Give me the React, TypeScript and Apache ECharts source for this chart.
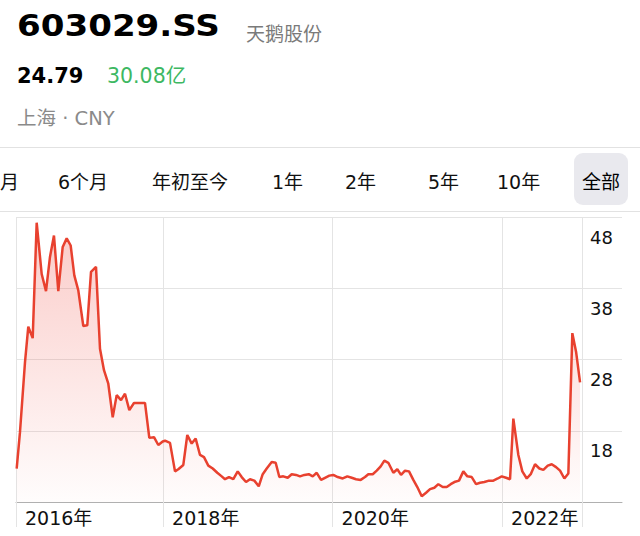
import React, { useEffect, useRef } from 'react';
import * as echarts from 'echarts';

// ---- header texts ----
const tickerSymbol = '603029.SS';
const companyName = '天鹅股份';
const lastPrice = '24.79';
const marketCap = '30.08亿';
const exchangeInfo = '上海 · CNY';

// ---- range tabs ----
const tabs = ['月', '6个月', '年初至今', '1年', '2年', '5年', '10年', '全部'];
const activeTab = '全部';

// ---- price history (time in decimal years, close price in CNY) ----
const times = [
  2016.273, 2016.312, 2016.371, 2016.41, 2016.462, 2016.509, 2016.568, 2016.619, 2016.666, 2016.713,
  2016.764, 2016.816, 2016.863, 2016.91, 2016.953, 2017.0, 2017.059, 2017.106, 2017.15, 2017.209,
  2017.256, 2017.303, 2017.354, 2017.406, 2017.453, 2017.504, 2017.551, 2017.602, 2017.657, 2017.787,
  2017.838, 2017.893, 2017.944, 2017.996, 2018.023, 2018.082, 2018.141, 2018.18, 2018.239, 2018.286,
  2018.338, 2018.385, 2018.436, 2018.483, 2018.534, 2018.586, 2018.64, 2018.692, 2018.731, 2018.778,
  2018.829, 2018.881, 2018.928, 2018.979, 2019.026, 2019.077, 2019.129, 2019.176, 2019.223, 2019.282,
  2019.329, 2019.372, 2019.419, 2019.471, 2019.518, 2019.569, 2019.616, 2019.667, 2019.719, 2019.766,
  2019.813, 2019.864, 2019.911, 2019.962, 2020.009, 2020.061, 2020.12, 2020.174, 2020.226, 2020.277,
  2020.332, 2020.383, 2020.422, 2020.474, 2020.521, 2020.568, 2020.611, 2020.658, 2020.717, 2020.764,
  2020.808, 2020.855, 2020.902, 2020.953, 2021.0, 2021.052, 2021.103, 2021.15, 2021.201, 2021.248,
  2021.3, 2021.347, 2021.394, 2021.437, 2021.492, 2021.543, 2021.59, 2021.642, 2021.693, 2021.74,
  2021.791, 2021.846, 2021.897, 2021.949, 2021.996, 2022.047, 2022.094, 2022.133, 2022.192, 2022.239,
  2022.291, 2022.338, 2022.389, 2022.44, 2022.487, 2022.539, 2022.586, 2022.637, 2022.684, 2022.735,
  2022.782, 2022.829, 2022.873, 2022.92,
];
const prices = [
  12.7, 17.8, 27.6, 32.6, 31.0, 47.2, 40.0, 37.6, 42.4, 45.4,
  37.6, 43.8, 45.0, 44.0, 39.8, 37.7, 32.7, 32.8, 40.3, 41.0,
  29.5, 26.5, 24.6, 19.9, 23.0, 22.3, 23.2, 20.9, 21.9, 21.9,
  17.0, 17.1, 16.0, 16.5, 16.6, 16.3, 12.3, 12.6, 13.2, 17.4,
  16.2, 16.9, 14.6, 14.3, 13.1, 12.7, 12.1, 11.6, 11.2, 11.5,
  11.2, 12.3, 11.5, 10.8, 11.2, 11.0, 10.2, 11.9, 12.7, 13.6,
  13.5, 11.5, 11.6, 11.4, 11.9, 11.8, 11.6, 11.8, 11.9, 11.6,
  12.1, 11.1, 11.4, 11.7, 11.8, 11.5, 11.3, 11.6, 11.4, 11.2,
  11.1, 11.5, 11.9, 11.9, 12.4, 13.0, 13.8, 13.5, 12.1, 12.6,
  11.8, 12.4, 12.3, 11.1, 10.1, 8.8, 9.3, 9.8, 10.0, 10.5,
  10.1, 10.1, 10.5, 10.8, 11.0, 12.3, 11.6, 11.5, 10.5, 10.7,
  10.8, 11.0, 11.0, 11.3, 11.6, 11.4, 11.2, 19.7, 14.6, 12.3,
  11.3, 11.9, 13.3, 12.7, 12.5, 13.1, 13.3, 12.9, 12.4, 11.3,
  12.0, 31.7, 29.1, 24.79,
];

// ---- axes ----
const axisStart = 2016.265;
const axisEnd = 2023.415;
const dataEnd = 2022.943;
const yearLabels = [2016.265, 2018, 2020, 2022];
const priceMin = 8;
const priceMax = 48;
const priceGrid = [8, 18, 28, 38, 48];
const priceLabels = [18, 28, 38, 48];

const FONT = '"DejaVu Sans", "Noto Sans CJK SC", sans-serif';
const CJK = '"Noto Sans CJK SC", "DejaVu Sans", sans-serif';
const tabX = [0, 58, 152, 272, 345, 428, 497, 582];

export default function App() {
  const ref = useRef<HTMLDivElement>(null);
  useEffect(() => {
    if (!ref.current) return;
    const chart = echarts.init(ref.current, undefined, { renderer: 'svg' });
    const data = times.map((t, i) => [t, prices[i]]);

    const graphic: any[] = [
      {
        type: 'text', x: 17, y: 26, scaleX: 1.1, z: 10,
        style: { text: tickerSymbol, fontFamily: FONT, fontWeight: 'bold', fontSize: 31, fill: '#000', textAlign: 'left', textVerticalAlign: 'middle' },
      },
      {
        type: 'text', x: 246, y: 32, z: 10,
        style: { text: companyName, fontFamily: CJK, fontSize: 19, fill: '#7a7a7a', textAlign: 'left', textVerticalAlign: 'middle' },
      },
      {
        type: 'text', x: 17, y: 76, z: 10,
        style: { text: lastPrice, fontFamily: FONT, fontWeight: 'bold', fontSize: 21, fill: '#000', textAlign: 'left', textVerticalAlign: 'middle' },
      },
      {
        type: 'text', x: 107, y: 76, z: 10,
        style: { text: marketCap, fontFamily: FONT, fontSize: 20.5, fill: '#3db862', textAlign: 'left', textVerticalAlign: 'middle' },
      },
      {
        type: 'text', x: 17, y: 118, z: 10,
        style: { text: exchangeInfo, fontFamily: FONT, fontSize: 19.5, fill: '#8a8a8a', textAlign: 'left', textVerticalAlign: 'middle' },
      },
      { type: 'line', z: 5, shape: { x1: 0, y1: 147.5, x2: 640, y2: 147.5 }, style: { stroke: '#e2e2e2', lineWidth: 1 } },
      { type: 'line', z: 5, shape: { x1: 0, y1: 211.5, x2: 640, y2: 211.5 }, style: { stroke: '#e2e2e2', lineWidth: 1 } },
      { type: 'rect', z: 5, shape: { x: 574, y: 153, width: 54, height: 52, r: 9 }, style: { fill: '#e9e9ee' } },
    ];
    tabs.forEach((t, i) => {
      graphic.push({
        type: 'text', x: tabX[i], y: 182, z: 10,
        style: { text: t, fontFamily: FONT, fontSize: 19, fill: t === activeTab ? '#000' : '#111', textAlign: 'left', textVerticalAlign: 'middle' },
      });
    });

    chart.setOption({
      animation: false,
      backgroundColor: '#ffffff',
      grid: { left: 16, right: 18, top: 217, bottom: 34, containLabel: false, outerBoundsMode: 'none' },
      xAxis: {
        type: 'value',
        min: axisStart,
        max: axisEnd,
        axisLine: { show: true, lineStyle: { color: '#b0b0b0', width: 1 } },
        axisTick: { show: true, length: 25, lineStyle: { color: '#e4e4e4', width: 1 }, customValues: [...yearLabels, dataEnd] },
        splitLine: { show: true, lineStyle: { color: '#e4e4e4', width: 1 } },
        axisLabel: {
          customValues: yearLabels,
          formatter: (v: number) => Math.floor(v) + '年',
          align: 'left',
          padding: [0, 0, 0, 9],
          margin: 6,
          fontSize: 19,
          color: '#111',
          fontFamily: FONT,
        },
      },
      yAxis: {
        type: 'value',
        position: 'right',
        min: priceMin,
        max: priceMax,
        axisLine: { show: false },
        axisTick: { show: false, customValues: priceGrid },
        splitLine: { show: true, lineStyle: { color: '#e4e4e4', width: 1 } },
        axisLabel: {
          inside: true,
          customValues: priceLabels,
          margin: 9,
          fontSize: 18,
          color: '#111',
          fontFamily: FONT,
          verticalAlign: 'top',
          lineHeight: 18,
          padding: [11, 0, 0, 0],
        },
      },
      series: [
        {
          type: 'line',
          data,
          symbol: 'none',
          showSymbol: false,
          lineStyle: { color: '#e8412f', width: 2.5 },
          itemStyle: { color: '#e8412f' },
          areaStyle: {
            color: new echarts.graphic.LinearGradient(0, 0, 0, 1, [
              { offset: 0, color: 'rgba(240,80,70,0.42)' },
              { offset: 1, color: 'rgba(240,80,70,0.02)' },
            ]),
          },
        },
      ],
      graphic,
    });
    return () => chart.dispose();
  }, []);
  return <div ref={ref} style={{ position: 'fixed', left: 0, top: 0, width: 640, height: 536 }} />;
}
